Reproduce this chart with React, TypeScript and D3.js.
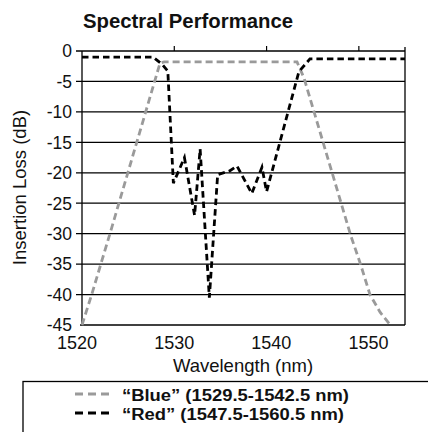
import React from "react";
import * as d3 from "d3";

const blueWl = [1520, 1521.05, 1523.03, 1528.45, 1528.9, 1543.3, 1544.05, 1549.1, 1550.2, 1551.2, 1552.3, 1553.4];
const blueDb = [-45, -40, -30, -2.0, -1.8, -1.8, -4.4, -30.2, -35.1, -40, -42.9, -45];

const redWl = [1520, 1527.7, 1528.7, 1529.3, 1529.9, 1531.1, 1532.2, 1532.8, 1533.8, 1534.7, 1536.0, 1536.8, 1538.4, 1539.5, 1540.0, 1543.5, 1544.7, 1555];
const redDb = [-1.0, -1.0, -2.2, -3.3, -21.7, -17.5, -27, -16.1, -40.5, -20.3, -19.7, -18.9, -23.4, -19.1, -23.1, -3.4, -1.3, -1.3];

const yTicks = [0, -5, -10, -15, -20, -25, -30, -35, -40, -45];
const xTicks = [1520, 1530, 1540, 1550];
const topTicks = [1530, 1540, 1550];

const title = "Spectral Performance";
const xTitle = "Wavelength (nm)";
const yTitle = "Insertion Loss (dB)";
const legendLabels = ["\u201cBlue\u201d (1529.5-1542.5 nm)", "\u201cRed\u201d (1547.5-1560.5 nm)"];
const legendColors = ["#9a9a9a", "#000000"];
const legendWidths = [227, 222];

export default function App() {
  const W = 428, H = 432;
  const x = d3.scaleLinear().domain([1520, 1555]).range([82, 405]);
  const xLab = d3.scaleLinear().domain([1520, 1550]).range([77, 368.5]);
  const y = d3.scaleLinear().domain([0, -45]).range([51, 325]);
  const line = d3.line<[number, number]>().x(d => x(d[0])).y(d => y(d[1]));
  const blue = blueWl.map((w, i) => [w, blueDb[i]] as [number, number]);
  const red = redWl.map((w, i) => [w, redDb[i]] as [number, number]);
  const font = "'Liberation Sans', Arial, sans-serif";
  return (
    <svg width={W} height={H} style={{ position: "absolute", left: 0, top: 0, background: "#fff" }} fontFamily={font}>
      <rect x={0} y={0} width={W} height={H} fill="#fff" />
      <text x={83} y={27.5} fontSize={21} fontWeight="bold" textLength={210} lengthAdjust="spacingAndGlyphs" fill="#111">{title}</text>
      {yTicks.map(t => (
        <line key={"g" + t} x1={t === -45 ? 80 : 76} x2={x.range()[1]} y1={y(t)} y2={y(t)} stroke="#000" strokeWidth={1.3} />
      ))}
      {yTicks.map(t => (
        <text key={"yl" + t} x={72} y={y(t)} dy="0.36em" textAnchor="end" fontSize={17.5} fill="#111">{t}</text>
      ))}
      <line x1={x.range()[0]} x2={x.range()[0]} y1={y(0)} y2={y(-45)} stroke="#000" strokeWidth={1.3} />
      <line x1={x.range()[1]} x2={x.range()[1]} y1={y(0) - 4} y2={y(-45)} stroke="#000" strokeWidth={1.3} />
      {topTicks.map(t => (
        <line key={"tt" + t} x1={x(t)} x2={x(t)} y1={y(0) - 5} y2={y(0)} stroke="#000" strokeWidth={1.2} />
      ))}
      {xTicks.map(t => (
        <text key={"xl" + t} x={xLab(t)} y={349} textAnchor="middle" fontSize={18} fill="#111">{t}</text>
      ))}
      <text x={243} y={372} textAnchor="middle" fontSize={18.5} fill="#111">{xTitle}</text>
      <text transform={`translate(26,${187.5}) rotate(-90)`} textAnchor="middle" fontSize={18.5} fill="#111">{yTitle}</text>
      <path d={line(blue) || ""} fill="none" stroke={legendColors[0]} strokeWidth={2.8} strokeDasharray="7,4" />
      <path d={line(red) || ""} fill="none" stroke={legendColors[1]} strokeWidth={2.8} strokeDasharray="6.5,4" />
      <rect x={23} y={381.5} width={430} height={80} fill="none" stroke="#000" strokeWidth={1.3} />
      {legendLabels.map((l, i) => (
        <g key={l}>
          <line x1={75} x2={110} y1={394 + i * 19} y2={394 + i * 19} stroke={legendColors[i]} strokeWidth={2.8} strokeDasharray="8,5" />
          <text x={122} y={401 + i * 19} fontSize={16} fontWeight="bold" textLength={legendWidths[i]} lengthAdjust="spacingAndGlyphs" fill="#111">{l}</text>
        </g>
      ))}
    </svg>
  );
}
